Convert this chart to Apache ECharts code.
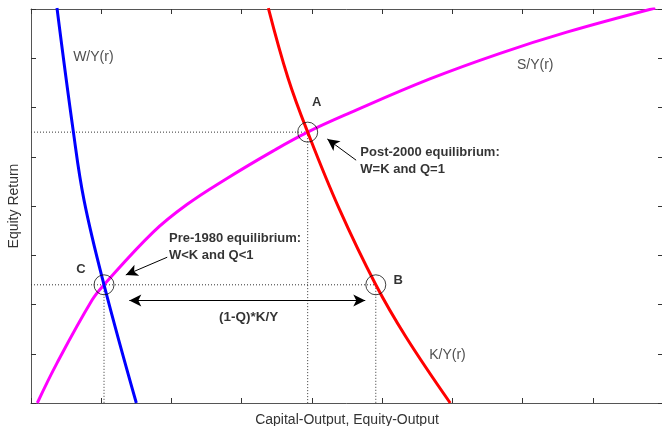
<!DOCTYPE html>
<html>
<head>
<meta charset="utf-8">
<script src="https://cdn.jsdelivr.net/npm/echarts@6/dist/echarts.min.js"></script>
<style>html,body{margin:0;padding:0;background:#fff;}#c{width:662px;height:426px;}</style>
</head>
<body>
<div id="c"></div>
<script>
// S/Y(r) curve (magenta)
const sX = [0.09, 0.37, 0.87, 1.04, 1.74, 2.22, 2.79, 3.45, 3.94, 4.54, 5.68, 6.68, 7.63, 8.89];
const sY = [0.00, 0.81, 2.09, 2.40, 3.47, 4.03, 4.56, 5.12, 5.50, 5.89, 6.58, 7.10, 7.53, 8.02];
// W/Y(r) curve (blue)
const wX = [0.37, 0.60, 0.755, 1.04, 1.50];
const wY = [8.02, 5.54, 4.12, 2.40, 0.00];
// K/Y(r) curve (red)
const kX = [3.38, 3.66, 3.94, 4.39, 4.91, 5.34, 5.97];
const kY = [8.02, 6.60, 5.50, 3.94, 2.40, 1.34, 0.00];
// equilibrium points
const ptNames = ['A', 'B', 'C'];
const ptX = [3.94, 4.91, 1.04];
const ptY = [5.50, 2.40, 2.40];
// point letter labels
const letterX = [4.07, 5.23, 0.71];
const letterY = [6.11, 2.48, 2.72];
// curve names
const curveNames = ['W/Y(r)', 'S/Y(r)', 'K/Y(r)'];
const curveNameX = [0.60, 6.92, 5.67];
const curveNameY = [7.03, 6.86, 0.97];
// notes
const noteTexts = ['Post-2000 equilibrium:\nW=K and Q=1', 'Pre-1980 equilibrium:\nW<K and Q<1'];
const noteX = [4.69, 1.965];
const noteY = [4.92, 3.17];
const gapText = '(1-Q)*K/Y';
const gapTextX = 3.10, gapTextY = 1.75;
// arrows [x1,y1,x2,y2] (tail -> head)
const arrowPost = [4.63, 4.93, 4.22, 5.36];
const arrowPre = [1.94, 2.96, 1.35, 2.60];
const arrowGap = [1.40, 2.08, 4.76, 2.08];
// axes
const xMin = 0, xMax = 9, yMin = 0, yMax = 8;
const xName = 'Capital-Output, Equity-Output';
const yName = 'Equity Return';

const FONT = '"Liberation Sans", Arial, Helvetica, sans-serif';
const zip = (a, b) => a.map((v, i) => [v, b[i]]);

const axisCommon = {
  type: 'value', interval: 1,
  axisLine: { show: true, onZero: false, lineStyle: { color: '#555', width: 1 } },
  axisTick: { show: true, inside: true, length: 5, lineStyle: { color: '#333', width: 1 } },
  axisLabel: { show: false },
  splitLine: { show: false }
};

const dotted = { color: '#333', width: 1, type: [1, 2] };
const guideSeg = [
  [[xMin, ptY[0]], [ptX[0], ptY[0]]],
  [[ptX[0], ptY[0]], [ptX[0], yMin]],
  [[xMin, ptY[2]], [ptX[1], ptY[1]]],
  [[ptX[1], ptY[1]], [ptX[1], yMin]],
  [[ptX[2], ptY[2]], [ptX[2], yMin]]
];

const series = [];
guideSeg.forEach(seg => series.push({
  type: 'line', data: seg, symbol: 'none', silent: true,
  lineStyle: dotted, z: 1
}));
series.push({
  type: 'line', data: zip(sX, sY), symbol: 'none', smooth: 0.4,
  lineStyle: { color: '#ff00ff', width: 3 }, z: 3
});
series.push({
  type: 'line', data: zip(wX, wY), symbol: 'none', smooth: 0.4,
  lineStyle: { color: '#0000ff', width: 3 }, z: 3
});
series.push({
  type: 'line', data: zip(kX, kY), symbol: 'none', smooth: 0.4,
  lineStyle: { color: '#ff0000', width: 3 }, z: 3
});
series.push({
  type: 'scatter', data: zip(ptX, ptY), symbol: 'circle', symbolSize: 20, silent: true,
  itemStyle: { color: 'rgba(0,0,0,0)', borderColor: '#111', borderWidth: 1 }, z: 4
});
const textSeries = (xs, ys, texts, style) => ({
  type: 'scatter', symbolSize: 0, silent: true, z: 5,
  data: xs.map((x, i) => ({ value: [x, ys[i]], label: { formatter: texts[i] } })),
  label: Object.assign({ show: true, position: 'inside', fontFamily: FONT }, style)
});
series.push(textSeries(letterX, letterY, ptNames, { fontSize: 13, fontWeight: 'bold', color: '#000', align: 'center', verticalAlign: 'middle' }));
series.push(textSeries(curveNameX, curveNameY, curveNames, { fontSize: 14, color: '#222', align: 'left', verticalAlign: 'middle' }));
series.push(textSeries(noteX, noteY, noteTexts, { fontSize: 13, fontWeight: 'bold', color: '#000', align: 'left', verticalAlign: 'middle', lineHeight: 17.5 }));
series.push(textSeries([gapTextX], [gapTextY], [gapText], { fontSize: 13.5, fontWeight: 'bold', color: '#000', align: 'center', verticalAlign: 'middle' }));

const arrowLine = (a) => [{ coord: [a[0], a[1]] }, { coord: [a[2], a[3]] }];
series.push({
  type: 'line', data: [], silent: true,
  markLine: {
    silent: true, animation: false,
    symbol: ['none', 'arrow'], symbolSize: [9, 12],
    label: { show: false },
    lineStyle: { color: '#000', width: 1, type: 'solid' },
    data: [arrowLine(arrowPost), arrowLine(arrowPre)]
  }
});
series.push({
  type: 'line', data: [], silent: true,
  markLine: {
    silent: true, animation: false,
    symbol: ['arrow', 'arrow'], symbolSize: [9, 12],
    label: { show: false },
    lineStyle: { color: '#000', width: 1.2, type: 'solid' },
    data: [arrowLine(arrowGap)]
  }
});

const chart = echarts.init(document.getElementById('c'));
chart.setOption({
  animation: false,
  backgroundColor: '#fff',
  grid: { left: 31, top: 9, width: 632, height: 394, containLabel: false, outerBoundsMode: 'none' },
  xAxis: [
    Object.assign({}, axisCommon, { min: xMin, max: xMax, position: 'bottom', name: xName, nameLocation: 'middle', nameGap: 10,
      nameTextStyle: { fontFamily: FONT, fontSize: 14, color: '#333', verticalAlign: 'top' } }),
    Object.assign({}, axisCommon, { min: xMin, max: xMax, position: 'top' })
  ],
  yAxis: [
    Object.assign({}, axisCommon, { min: yMin, max: yMax, position: 'left', name: yName, nameLocation: 'middle', nameGap: 10,
      nameRotate: 90, nameTextStyle: { fontFamily: FONT, fontSize: 14, color: '#333', verticalAlign: 'bottom' } }),
    Object.assign({}, axisCommon, { min: yMin, max: yMax, position: 'right' })
  ],
  series: series
});
</script>
</body>
</html>
